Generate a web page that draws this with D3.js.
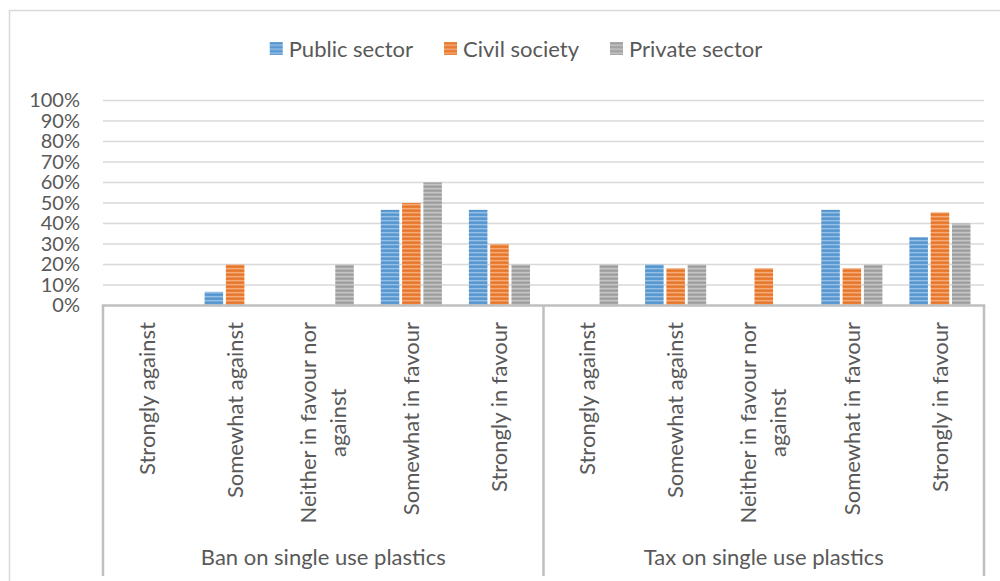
<!DOCTYPE html>
<html>
<head>
<meta charset="utf-8">
<script src="https://cdn.jsdelivr.net/npm/d3@7"></script>
<style>
  html, body { margin: 0; padding: 0; background: #fff; }
  svg { display: block; font-family: Lato, "Open Sans", sans-serif; }
</style>
</head>
<body>
<svg id="chart" width="1000" height="581"></svg>
<script>
// Survey responses (% of respondents) by sector, for two policy options
const groups = ["Ban on single use plastics", "Tax on single use plastics"];
const responses = [
  ["Strongly against"],
  ["Somewhat against"],
  ["Neither in favour nor", "against"],
  ["Somewhat in favour"],
  ["Strongly in favour"]
];
const seriesNames = ["Public sector", "Civil society", "Private sector"];
const seriesColors = ["#5B9BD5", "#ED7D31", "#A5A5A5"];

// values listed: ban (5 responses) then tax (5 responses)
const publicSector  = [0, 6.67, 0, 46.67, 46.67,   0, 20, 0, 46.67, 33.33];
const civilSociety  = [0, 20, 0, 50, 30,           0, 18.18, 18.18, 18.18, 45.45];
const privateSector = [0, 0, 20, 60, 20,           20, 20, 0, 20, 40];

const yTicks = [0, 10, 20, 30, 40, 50, 60, 70, 80, 90, 100];

const seriesValues = [publicSector, civilSociety, privateSector];

const svg = d3.select("#chart");
const textColor = "#595959";

const plot = { left: 103, right: 984, top: 100.5, bottom: 305.5 };

// Outer chart frame
svg.append("rect")
  .attr("x", 9.5).attr("y", 10.5)
  .attr("width", 1000).attr("height", 620)
  .attr("fill", "none").attr("stroke", "#d9d9d9").attr("stroke-width", 1.5);

// Striped fills for the bars
const defs = svg.append("defs");
seriesColors.forEach((c, i) => {
  const p = defs.append("pattern")
    .attr("id", "stripe" + i)
    .attr("patternUnits", "userSpaceOnUse")
    .attr("width", 6).attr("height", 4);
  p.append("rect").attr("width", 6).attr("height", 4).attr("fill", c);
  p.append("rect").attr("y", 0).attr("width", 6).attr("height", 1.4)
    .attr("fill", d3.interpolateRgb(c, "#ffffff")(0.35));
  p.append("rect").attr("y", 2.2).attr("width", 6).attr("height", 0.8)
    .attr("fill", d3.interpolateRgb(c, "#000000")(0.06));
});

// Scales
const keys = [];
groups.forEach((g, gi) => responses.forEach((r, ri) => keys.push(gi + "-" + ri)));

const x0 = d3.scaleBand().domain(keys).range([plot.left, plot.right]).padding(0);
const x1 = d3.scaleBand().domain(seriesNames).range([0, x0.bandwidth()])
  .paddingInner(0.13).paddingOuter(0.634);
const y = d3.scaleLinear().domain([0, 100]).range([plot.bottom, plot.top]);

// Gridlines
svg.append("g")
  .selectAll("line")
  .data(yTicks.filter(t => t > 0))
  .join("line")
  .attr("x1", plot.left).attr("x2", plot.right)
  .attr("y1", d => y(d)).attr("y2", d => y(d))
  .attr("stroke", "#d9d9d9").attr("stroke-width", 1.5);

// Value axis labels
const yAxis = d3.axisLeft(y).tickValues(yTicks).tickFormat(d => d + "%").tickSize(0).tickPadding(23);
const yg = svg.append("g").attr("transform", `translate(${plot.left},0)`).call(yAxis);
yg.select(".domain").remove();
yg.selectAll("text")
  .attr("fill", textColor)
  .style("font-size", "20px")
  .style("font-family", "Lato, 'Open Sans', sans-serif");

// Bars
const barData = [];
keys.forEach((k, i) => {
  seriesNames.forEach((s, si) => {
    barData.push({ key: k, series: s, si, value: seriesValues[si][i] });
  });
});

svg.append("g")
  .selectAll("rect")
  .data(barData.filter(d => d.value > 0))
  .join("rect")
  .attr("x", d => x0(d.key) + x1(d.series))
  .attr("width", x1.bandwidth())
  .attr("y", d => y(d.value))
  .attr("height", d => y(0) - y(d.value))
  .attr("fill", d => `url(#stripe${d.si})`);

// Category axis (two levels)
const axisColor = "#bfbfbf";
const axisBottom = 576;
svg.append("line")
  .attr("x1", plot.left - 1.25).attr("x2", plot.right + 1.25)
  .attr("y1", plot.bottom).attr("y2", plot.bottom)
  .attr("stroke", axisColor).attr("stroke-width", 2.5);

const dividers = [plot.left, x0(keys[responses.length]), plot.right];
svg.append("g")
  .selectAll("line")
  .data(dividers)
  .join("line")
  .attr("x1", d => d).attr("x2", d => d)
  .attr("y1", plot.bottom).attr("y2", axisBottom)
  .attr("stroke", axisColor).attr("stroke-width", 2.5);

// Response labels (rotated; multi-line blocks are centred along their longest line)
const lineGap = 30;
const labelTop = 322;
const catLabels = svg.append("g")
  .style("font-size", "22px")
  .attr("fill", textColor);
keys.forEach((k, i) => {
  const lines = responses[i % responses.length];
  const cx = x0(k) + x0.bandwidth() / 2;
  const nodes = lines.map((ln, li) => {
    const off = (li - (lines.length - 1) / 2) * lineGap;
    return catLabels.append("text")
      .attr("dy", "0.35em")
      .datum(off)
      .text(ln);
  });
  const maxLen = d3.max(nodes, n => n.node().getComputedTextLength());
  nodes.forEach(n => {
    n.attr("text-anchor", "middle")
     .attr("transform", `translate(${cx + n.datum()},${labelTop + maxLen / 2}) rotate(-90)`);
  });
});

// Group labels
svg.append("g")
  .selectAll("text")
  .data(groups)
  .join("text")
  .attr("x", (g, gi) => (dividers[gi] + dividers[gi + 1]) / 2)
  .attr("y", 565)
  .attr("text-anchor", "middle")
  .attr("fill", textColor)
  .style("font-size", "22px")
  .text(d => d);

// Legend
const legend = svg.append("g").style("font-size", "22px");
let lx = 0;
seriesNames.forEach((s, i) => {
  const g = legend.append("g");
  g.append("rect")
    .attr("x", 0).attr("y", -14.5)
    .attr("width", 13).attr("height", 13)
    .attr("fill", `url(#stripe${i})`);
  const t = g.append("text").attr("x", 19).attr("fill", textColor).text(s);
  const w = 19 + t.node().getComputedTextLength();
  g.attr("transform", `translate(${lx},0)`);
  lx += w + 31;
});
const legendWidth = lx - 31;
legend.attr("transform", `translate(${516 - legendWidth / 2},56.5)`);
</script>
</body>
</html>
